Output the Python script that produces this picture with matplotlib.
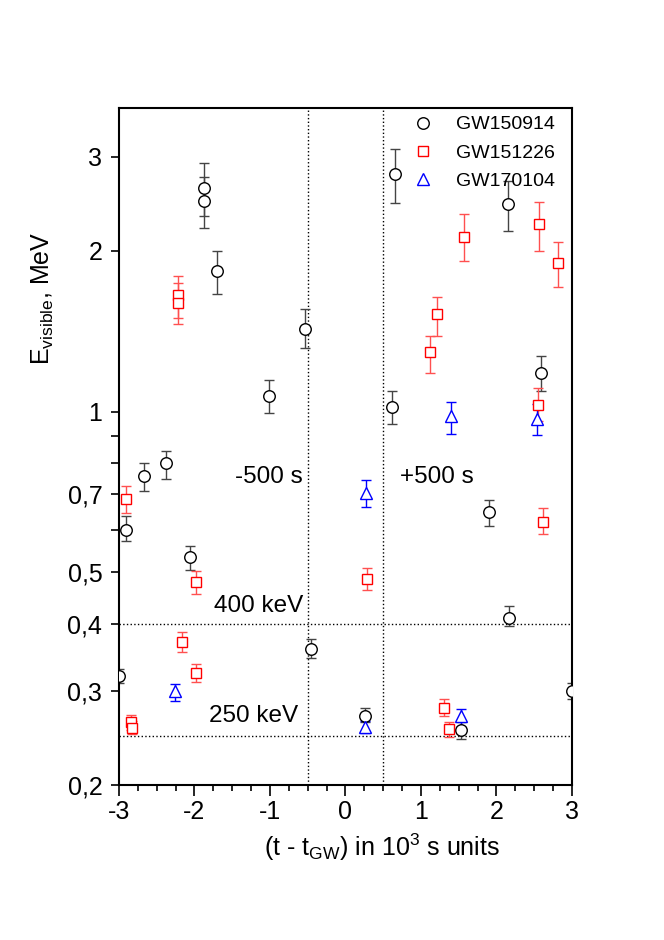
import matplotlib
matplotlib.use("Agg")
import matplotlib.pyplot as plt
import matplotlib.ticker as mticker
import numpy as np

plt.rcParams['font.family'] = ['Liberation Sans', 'DejaVu Sans']
plt.rcParams['mathtext.fontset'] = 'custom'
plt.rcParams['mathtext.rm'] = 'Liberation Sans'
plt.rcParams['mathtext.it'] = 'Liberation Sans'

# GW150914 (black circles)
gw1_t = [-3.0, -2.91, -2.67, -2.38, -2.06, -1.87, -1.88, -1.70, -1.01, -0.54, -0.46,
         0.26, 0.66, 0.62, 1.90, 2.15, 2.17, 2.59, 1.53, 3.0]
gw1_e = [0.32, 0.60, 0.758, 0.80, 0.535, 2.62, 2.48, 1.83, 1.07, 1.43, 0.36,
         0.269, 2.78, 1.02, 0.65, 2.45, 0.41, 1.18, 0.254, 0.30]
gw1_lo = [0.31, 0.573, 0.711, 0.748, 0.505, 2.32, 2.21, 1.66, 0.995, 1.316, 0.346,
          0.262, 2.46, 0.949, 0.611, 2.18, 0.397, 1.094, 0.244, 0.29]
gw1_hi = [0.33, 0.638, 0.801, 0.844, 0.561, 2.92, 2.75, 2.0, 1.147, 1.557, 0.375,
          0.279, 3.10, 1.094, 0.684, 2.70, 0.433, 1.271, 0.262, 0.31]

# GW151226 (red squares)
gw2_t = [-2.91, -2.84, -2.83, -2.22, -2.22, -2.17, -1.98, -1.98, 0.29, 1.30, 1.37,
         1.12, 1.21, 1.57, 2.56, 2.81, 2.55, 2.61]
gw2_e = [0.687, 0.262, 0.256, 1.65, 1.60, 0.37, 0.324, 0.48, 0.486, 0.279, 0.255,
         1.29, 1.52, 2.12, 2.24, 1.90, 1.03, 0.62]
gw2_lo = [0.646, 0.254, 0.249, 1.499, 1.459, 0.355, 0.312, 0.456, 0.463, 0.269, 0.246,
          1.182, 1.386, 1.91, 2.0, 1.71, 0.96, 0.59]
gw2_hi = [0.726, 0.270, 0.264, 1.795, 1.742, 0.387, 0.337, 0.503, 0.510, 0.290, 0.262,
          1.386, 1.641, 2.34, 2.47, 2.08, 1.107, 0.66]

# GW170104 (blue triangles)
gw3_t = [-2.26, 0.27, 0.26, 1.40, 2.54, 1.53]
gw3_e = [0.30, 0.705, 0.257, 0.98, 0.97, 0.269]
gw3_lo = [0.287, 0.663, 0.250, 0.908, 0.902, 0.257]
gw3_hi = [0.309, 0.745, 0.264, 1.043, 1.034, 0.277]

labels = ['GW150914', 'GW151226', 'GW170104']
vlines = [-0.5, 0.5]
hlines = [0.4, 0.247]

ytick_major = [0.2, 0.3, 0.4, 0.5, 0.7, 1, 2, 3]
ytick_labels = ['0,2', '0,3', '0,4', '0,5', '0,7', '1', '2', '3']
ytick_minor = [0.6, 0.8, 0.9]

fig = plt.figure(figsize=(6.64, 9.40), dpi=100)
ax = fig.add_axes([0.1792, 0.1649, 0.6822, 0.7202])

def draw(t, e, lo, hi, marker, color, ecolor, label, ms):
    t = np.array(t); e = np.array(e)
    yerr = np.vstack([e - np.array(lo), np.array(hi) - e])
    ax.errorbar(t, e, yerr=yerr, fmt='none', ecolor=ecolor, elinewidth=1.0,
                capsize=3.6, capthick=1.0, zorder=2)
    ax.plot(t, e, linestyle='none', marker=marker, markersize=ms,
            markerfacecolor='white', markeredgecolor=color, markeredgewidth=1.0,
            label=label, zorder=3)

draw(gw1_t, gw1_e, gw1_lo, gw1_hi, 'o', 'black', '#444444', labels[0], 8.3)
draw(gw2_t, gw2_e, gw2_lo, gw2_hi, 's', 'red', '#ff5050', labels[1], 7.3)
draw(gw3_t, gw3_e, gw3_lo, gw3_hi, '^', 'blue', 'blue', labels[2], 9)

for v in vlines:
    ax.axvline(v, color='black', linestyle=':', linewidth=1.0, zorder=1)
for h in hlines:
    ax.axhline(h, color='black', linestyle=':', linewidth=1.0, zorder=1)

ax.set_yscale('log')
ax.set_xlim(-3, 3)
ax.set_ylim(0.2, 3.7)
ax.yaxis.set_major_locator(mticker.FixedLocator(ytick_major))
ax.yaxis.set_major_formatter(mticker.FixedFormatter(ytick_labels))
ax.yaxis.set_minor_locator(mticker.FixedLocator(ytick_minor))
ax.yaxis.set_minor_formatter(mticker.NullFormatter())
ax.xaxis.set_major_locator(mticker.MultipleLocator(1))
ax.xaxis.set_minor_locator(mticker.MultipleLocator(0.25))
ax.xaxis.set_major_formatter(mticker.FuncFormatter(lambda v, p: f"{int(round(v))}"))

ax.tick_params(axis='y', which='both', direction='out', length=6, width=1.2,
               labelsize=18, pad=6)
ax.tick_params(axis='x', which='major', direction='out', length=8, width=1.2,
               labelsize=18, pad=3)
ax.tick_params(axis='x', which='minor', direction='out', length=4, width=1.2)
for s in ax.spines.values():
    s.set_linewidth(1.5)

fig.text(381.5 / 664, (940 - 856) / 940, r'(t - t$_{\mathrm{GW}}$) in 10$^{3}$ s units',
         fontsize=18, ha='center', va='baseline')
fig.text(50 / 664, (940 - 298) / 940, r'E$_{\mathrm{visible}}$, MeV', fontsize=18,
         rotation=90, rotation_mode='anchor', ha='center', va='baseline')

ax.text(-0.563, 0.736, '-500 s', fontsize=17.5, ha='right', va='baseline')
ax.text(0.72, 0.736, '+500 s', fontsize=17.5, ha='left', va='baseline')
ax.text(-0.563, 0.422, '400 keV', fontsize=17.5, ha='right', va='baseline')
ax.text(-0.63, 0.262, '250 keV', fontsize=17.5, ha='right', va='baseline')

leg = ax.legend(loc='upper right', bbox_to_anchor=(1 - 9 / 453, 1.0), frameon=False,
                fontsize=14, handletextpad=1.2, borderaxespad=0.0, borderpad=0.4,
                labelspacing=0.55, handlelength=1.0)

fig.savefig('out.png', dpi=100)
